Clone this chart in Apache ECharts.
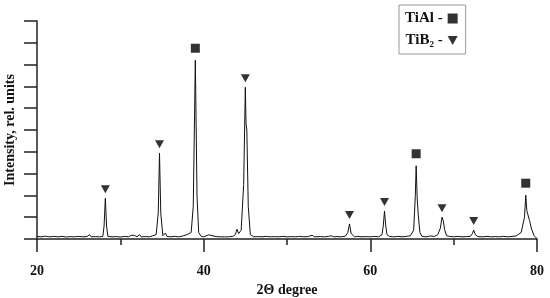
<!DOCTYPE html>
<html>
<head>
<meta charset="UTF-8">
<title>XRD</title>
<script src="https://cdn.jsdelivr.net/npm/echarts@6/dist/echarts.min.js"></script>
<style>
  body { margin: 0; background: #fff; }
  #main { width: 550px; height: 298px; }
</style>
</head>
<body>
<div id="main"></div>
<script>
// 2theta / intensity pairs
var spectrum = [
  [20,0.12],[20.5,0.1],[21,0.13],[21.5,0.1],[22,0.12],[22.5,0.1],[23,0.12],[23.5,0.09],[24,0.11],[24.5,0.1],
  [25,0.12],[25.5,0.1],[26,0.11],[26.3,0.2],[26.5,0.1],[27,0.11],[27.5,0.1],[27.9,0.12],[28.05,0.6],[28.2,1.87],
  [28.35,0.6],[28.5,0.12],[29,0.1],[29.5,0.11],[30,0.09],[30.5,0.12],[31,0.1],[31.3,0.17],[31.5,0.1],[31.7,0.16],
  [32,0.1],[32.3,0.2],[32.5,0.1],[33,0.11],[33.5,0.1],[33.9,0.15],[34.3,0.2],[34.55,1.2],[34.7,3.93],[34.85,1.2],
  [35.1,0.15],[35.4,0.27],[35.6,0.12],[36,0.1],[36.5,0.12],[37,0.1],[37.5,0.14],[38,0.2],[38.5,0.3],[38.75,1.5],
  [39.0,8.2],[39.2,2.0],[39.4,0.3],[39.7,0.12],[40,0.1],[40.6,0.19],[40.8,0.1],[41.5,0.11],[42,0.1],[42.5,0.1],
  [43,0.1],[43.5,0.12],[43.8,0.2],[44.0,0.45],[44.2,0.25],[44.5,0.4],[44.8,2.5],[45.0,6.96],[45.08,5.3],[45.18,5.0],
  [45.35,1.5],[45.6,0.2],[46,0.1],[46.5,0.11],[47,0.1],[47.5,0.12],[48,0.1],[48.5,0.11],[49,0.1],[49.5,0.12],
  [50,0.1],[50.5,0.11],[51,0.1],[51.5,0.12],[52,0.1],[52.5,0.11],[53,0.17],[53.3,0.1],[54,0.11],[54.5,0.1],
  [55,0.12],[55.3,0.15],[55.6,0.1],[56,0.11],[56.5,0.1],[57,0.13],[57.3,0.3],[57.5,0.69],[57.7,0.25],[57.85,0.22],
  [58.1,0.1],[58.5,0.12],[59,0.1],[59.5,0.11],[60,0.1],[60.5,0.12],[61,0.1],[61.4,0.2],[61.55,0.6],[61.7,1.28],
  [61.85,0.6],[62,0.2],[62.3,0.12],[62.8,0.1],[63.3,0.12],[63.8,0.1],[64.3,0.12],[64.8,0.15],[65.2,0.4],[65.4,2.0],
  [65.5,3.36],[65.62,1.9],[65.75,1.1],[65.95,0.3],[66.2,0.12],[66.7,0.1],[67.2,0.14],[67.7,0.12],[68.1,0.2],[68.4,0.5],
  [68.6,1.0],[68.75,0.85],[68.9,0.45],[69.15,0.15],[69.5,0.12],[70,0.1],[70.5,0.12],[71,0.1],[71.5,0.11],[72,0.12],
  [72.25,0.25],[72.4,0.41],[72.6,0.2],[72.9,0.11],[73.5,0.1],[74,0.12],[74.5,0.1],[75,0.11],[75.5,0.1],[76,0.12],
  [76.5,0.1],[77,0.12],[77.5,0.14],[78.1,0.3],[78.5,1.0],[78.65,2.01],[78.78,1.3],[78.92,1.25],[79.1,0.85],[79.35,0.45],
  [79.65,0.15],[79.9,0.05],[80,0.02]
];
var tialPeaks = [[39.0,8.2],[65.5,3.36],[78.65,2.01]];
var tib2Peaks = [[28.2,1.87],[34.7,3.93],[45.0,6.96],[57.5,0.69],[61.7,1.28],[68.6,1.0],[72.4,0.41]];
var xTicks = [20, 40, 60, 80];

var font = 'Liberation Serif';
var chart = echarts.init(document.getElementById('main'));

var option = {
  animation: false,
  grid: { left: 37, right: 13, top: 21, bottom: 59, outerBoundsMode: 'none', containLabel: false },
  legend: {
    orient: 'vertical',
    left: 399, top: 5,
    align: 'right',
    itemWidth: 10, itemHeight: 10, itemGap: 7,
    padding: [6, 8, 6, 6],
    borderColor: '#999', borderWidth: 1,
    textStyle: { fontFamily: font, fontWeight: 'bold', fontSize: 15, color: '#111' },
    data: ['TiAl -', 'TiB₂ -']
  },
  xAxis: [{
    type: 'value', min: 20, max: 80, interval: 20, position: 'bottom',
    name: '2Θ degree', nameLocation: 'middle', nameGap: 39,
    nameTextStyle: { fontFamily: font, fontWeight: 'bold', fontSize: 14, color: '#111' },
    axisLine: { lineStyle: { color: '#222', width: 1.5 } },
    axisTick: { length: 13, lineStyle: { color: '#222', width: 1.5 } },
    axisLabel: {
      margin: 25, fontFamily: font, fontWeight: 'bold', fontSize: 14, color: '#111',
      showMaxLabel: true, showMinLabel: true,
      formatter: function (v) { return xTicks.indexOf(v) >= 0 ? String(v) : ''; }
    },
    splitLine: { show: false }
  }, {
    type: 'value', min: 20, max: 80, interval: 10, position: 'bottom',
    axisLine: { show: false },
    axisTick: { length: 6, lineStyle: { color: '#222', width: 1.5 } },
    axisLabel: { show: false },
    splitLine: { show: false }
  }],
  yAxis: {
    type: 'value', min: 0, max: 10, interval: 1,
    name: 'Intensity, rel. units', nameLocation: 'middle', nameGap: 20,
    nameTextStyle: { fontFamily: font, fontWeight: 'bold', fontSize: 14, color: '#111' },
    axisLine: { show: true, lineStyle: { color: '#222', width: 1.5 } },
    axisTick: { show: true, length: 13, lineStyle: { color: '#222', width: 1.5 } },
    axisLabel: { show: false },
    splitLine: { show: false }
  },
  series: [{
    type: 'line', data: spectrum, showSymbol: false, silent: true,
    lineStyle: { color: '#111', width: 1 }
  }, {
    name: 'TiAl -', type: 'scatter', data: tialPeaks,
    symbol: 'rect', symbolSize: 9, symbolOffset: [0, -12],
    itemStyle: { color: '#000' }
  }, {
    name: 'TiB₂ -', type: 'scatter', data: tib2Peaks,
    symbol: 'path://M0,0L10,0L5,9Z', symbolSize: [9, 8], symbolOffset: [0, -9],
    itemStyle: { color: '#000' }
  }]
};
chart.setOption(option);
</script>
</body>
</html>
